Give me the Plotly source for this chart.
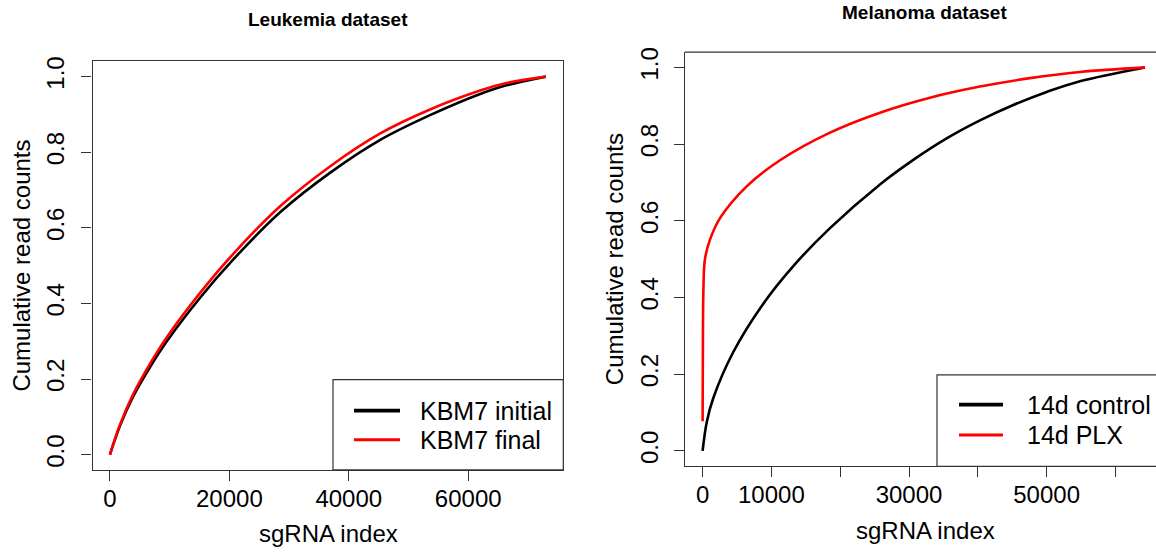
import plotly.graph_objects as go

# ---------------- data ----------------
leuk_index = [0, 1700, 3900, 6700, 9500, 15100, 20700, 28500, 36900, 45200, 53600, 62000, 66400, 73000]
leuk_initial = [0.0, 0.077, 0.154, 0.231, 0.299, 0.415, 0.517, 0.641, 0.746, 0.832, 0.898, 0.954, 0.977, 1.0]
leuk_final = [0.0, 0.080, 0.160, 0.240, 0.310, 0.428, 0.532, 0.657, 0.763, 0.849, 0.913, 0.963, 0.983, 1.0]

mel_control_index = [0, 600, 1555, 4462, 8822, 13180, 18515, 25780, 30626, 35470, 40314, 45157, 50007, 54847, 64300]
mel_control = [0.0, 0.075, 0.138, 0.258, 0.384, 0.482, 0.581, 0.695, 0.759, 0.815, 0.862, 0.902, 0.936, 0.964, 1.0]
mel_plx_index = [1, 50, 120, 340, 1075, 2529, 6409, 11248, 18515, 25780, 33048, 40314, 47580, 54847, 64300]
mel_plx = [0.0775, 0.30, 0.42, 0.50, 0.551, 0.607, 0.690, 0.758, 0.830, 0.882, 0.921, 0.950, 0.972, 0.988, 1.0]

y_ticks = [0.0, 0.2, 0.4, 0.6, 0.8, 1.0]
y_tick_labels = ["0.0", "0.2", "0.4", "0.6", "0.8", "1.0"]
leuk_x_ticks = [0, 20000, 40000, 60000]
leuk_x_labels = ["0", "20000", "40000", "60000"]
mel_x_ticks = [0, 10000, 20000, 30000, 40000, 50000, 60000]
mel_x_labels = ["0", "10000", "", "30000", "", "50000", ""]

titles = ["Leukemia dataset", "Melanoma dataset"]
x_title = "sgRNA index"
y_title = "Cumulative read counts"
leuk_legend = ["KBM7 initial", "KBM7 final"]
mel_legend = ["14d control", "14d PLX"]

# ---------------- layout helpers ----------------
W, H = 1156, 552
FONT = "Liberation Sans, Arial, Helvetica, sans-serif"
AX = "#333333"


def fx(p):
    return p / W


def fy(p):
    return 1 - p / H


fig = go.Figure()

fig.add_trace(go.Scatter(x=leuk_index, y=leuk_initial, mode="lines", line=dict(color="black", width=2.6, shape="spline"),
                         xaxis="x", yaxis="y", showlegend=False, name=leuk_legend[0]))
fig.add_trace(go.Scatter(x=leuk_index, y=leuk_final, mode="lines", line=dict(color="#ff0000", width=2.6, shape="spline"),
                         xaxis="x", yaxis="y", showlegend=False, name=leuk_legend[1]))
fig.add_trace(go.Scatter(x=mel_control_index, y=mel_control, mode="lines", line=dict(color="black", width=2.6, shape="spline"),
                         xaxis="x2", yaxis="y2", showlegend=False, name=mel_legend[0]))
fig.add_trace(go.Scatter(x=mel_plx_index, y=mel_plx, mode="lines", line=dict(color="#ff0000", width=2.6, shape="spline"),
                         xaxis="x2", yaxis="y2", showlegend=False, name=mel_legend[1]))

common_ax = dict(showgrid=False, zeroline=False, ticks="outside", ticklen=10, tickwidth=1.2, tickcolor=AX,
                 showline=True, linecolor=AX, linewidth=1.2, tickfont=dict(family=FONT, size=24, color="black"),
                 fixedrange=True)

fig.update_layout(
    width=W, height=H,
    margin=dict(l=0, r=0, t=0, b=0),
    paper_bgcolor="white", plot_bgcolor="white",
    showlegend=False,
    xaxis=dict(domain=[fx(92.5), fx(563.3)], range=[-2920, 75920], tickvals=leuk_x_ticks, ticktext=leuk_x_labels,
               anchor="y", mirror=True, ticklabelstandoff=-3, **common_ax),
    yaxis=dict(domain=[fy(469), fy(57)], range=[-0.04, 1.04], tickvals=y_ticks, ticktext=y_tick_labels,
               tickangle=-90, anchor="x", mirror=True, ticklabelstandoff=8, **common_ax),
    xaxis2=dict(domain=[fx(685), 1.0], range=[-2558, 65900], tickvals=mel_x_ticks, ticktext=mel_x_labels,
                anchor="y2", mirror=False, ticklabelstandoff=-3, **common_ax),
    yaxis2=dict(domain=[fy(465.5), fy(47.5)], range=[-0.04, 1.04], tickvals=y_ticks, ticktext=y_tick_labels,
                tickangle=-90, anchor="x2", mirror=False, ticklabelstandoff=6, **common_ax),
)

shapes = []
# top border of right panel (right side is cut off by the canvas)
shapes.append(dict(type="line", xref="paper", yref="paper", x0=fx(685), x1=1.02, y0=fy(47.5), y1=fy(47.5),
                   line=dict(color=AX, width=1.2)))

# legends (drawn like R's legend box)
def legend_box(x0, y0, x1, y1, ys, labels, text_x, line_x0, line_x1):
    shapes.append(dict(type="rect", xref="paper", yref="paper", x0=fx(x0), x1=fx(x1), y0=fy(y1), y1=fy(y0),
                       line=dict(color=AX, width=1.2), fillcolor="white", layer="above"))
    cols = ["black", "#ff0000"]
    widths = [3.6, 3.0]
    for yy, lab, c, w in zip(ys, labels, cols, widths):
        shapes.append(dict(type="line", xref="paper", yref="paper", x0=fx(line_x0), x1=fx(line_x1), y0=fy(yy), y1=fy(yy),
                           line=dict(color=c, width=w), layer="above"))
        fig.add_annotation(x=fx(text_x), y=fy(yy), xref="paper", yref="paper", text=lab, showarrow=False,
                           xanchor="left", yanchor="middle", font=dict(family=FONT, size=25, color="black"))


legend_box(333, 378, 563.3, 469, [409.3, 438.7], leuk_legend, 418, 354, 400)
legend_box(937, 373.3, 1180, 465.5, [403.3, 434], mel_legend, 1025, 959, 1003)

fig.update_layout(shapes=shapes)

# panel titles
fig.add_annotation(x=fx(328), y=fy(15), xref="paper", yref="paper", text="<b>%s</b>" % titles[0], showarrow=False,
                   xanchor="center", yanchor="middle", font=dict(family=FONT, size=19, color="black"))
fig.add_annotation(x=fx(924), y=fy(8), xref="paper", yref="paper", text="<b>%s</b>" % titles[1], showarrow=False,
                   xanchor="center", yanchor="middle", font=dict(family=FONT, size=19, color="black"))

# axis titles
for cx, cy in [(328, 533), (925, 530)]:
    fig.add_annotation(x=fx(cx), y=fy(cy), xref="paper", yref="paper", text=x_title, showarrow=False,
                       xanchor="center", yanchor="middle", font=dict(family=FONT, size=24, color="black"))
for cx, cy in [(22, 263), (614, 256.5)]:
    fig.add_annotation(x=fx(cx), y=fy(cy), xref="paper", yref="paper", text=y_title, showarrow=False, textangle=-90,
                       xanchor="center", yanchor="middle", font=dict(family=FONT, size=24, color="black"))

fig.write_html("out.html")
